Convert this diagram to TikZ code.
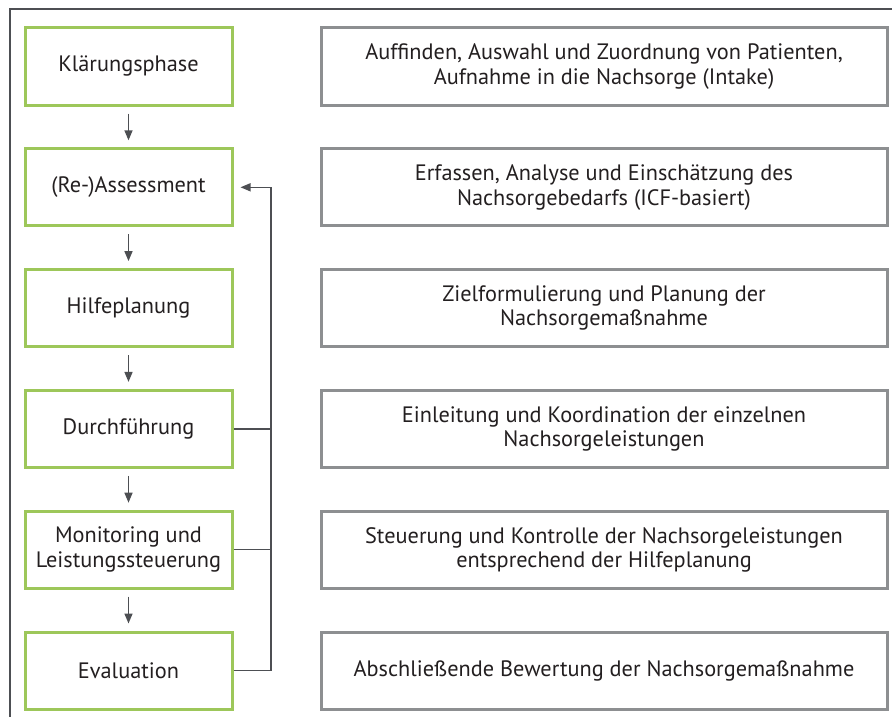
\documentclass[tikz,border=0pt]{standalone}
\usepackage{fontspec}
\setmainfont{PT Sans}
\usetikzlibrary{arrows.meta}
\definecolor{grn}{HTML}{9DC75A}
\definecolor{gbox}{HTML}{8D8F91}
\definecolor{ln}{HTML}{4D4F53}
\definecolor{txt}{HTML}{231F20}
\tikzset{
  phase/.style={draw=grn, line width=3pt, minimum width=207pt, minimum height=77pt, inner sep=0pt, align=center, text=txt, font=\fontsize{22.3}{24.5}\selectfont},
  desc/.style={draw=gbox, line width=3pt, minimum width=566pt, minimum height=77pt, inner sep=0pt, align=center, text=txt, font=\fontsize{22.3}{24.5}\selectfont},
  conn/.style={draw=ln, line width=1.5pt},
  arr/.style={conn, -{Triangle[length=10pt,width=8pt]}}
}
\begin{document}
\begin{tikzpicture}[x=1pt,y=-1pt]
\useasboundingbox (0,0) rectangle (892,717);
\draw[conn, line width=1.3pt] (10,717) -- (10,9) -- (892,9);
\foreach \n/\t/\d [count=\i from 0] in {
 a/{Klärungsphase}/{Auffinden, Auswahl und Zuordnung von Patienten,\\Aufnahme in die Nachsorge (Intake)},
 b/{(Re-)Assessment}/{Erfassen, Analyse und Einschätzung des\\Nachsorgebedarfs (ICF-basiert)},
 c/{Hilfeplanung}/{Zielformulierung und Planung der\\Nachsorgemaßnahme},
 d/{Durchführung}/{Einleitung und Koordination der einzelnen\\Nachsorgeleistungen},
 e/{Monitoring und\\Leistungssteuerung}/{Steuerung und Kontrolle der Nachsorgeleistungen\\entsprechend der Hilfeplanung},
 f/{Evaluation}/{Abschließende Bewertung der Nachsorgemaßnahme}} {
  \node[phase] (\n) at (128.5, {66.5+120.8*\i}) {\t};
  \node[desc] (\n d) at (604, {66.5+120.8*\i}) {\d};
}
\foreach \p/\q in {a/b,b/c,c/d,d/e,e/f} {
  \draw[arr] ([yshift=-7pt]\p.south) -- ([yshift=7pt]\q.north);
}
\coordinate (fb) at (271,0);
\coordinate (bt) at ([xshift=7pt]b.east);
\draw[arr] (f.east) -- (f.east -| fb) -- (bt -| fb) -- (bt);
\draw[conn] (d.east) -- (d.east -| fb);
\draw[conn] (e.east) -- (e.east -| fb);
\end{tikzpicture}
\end{document}
